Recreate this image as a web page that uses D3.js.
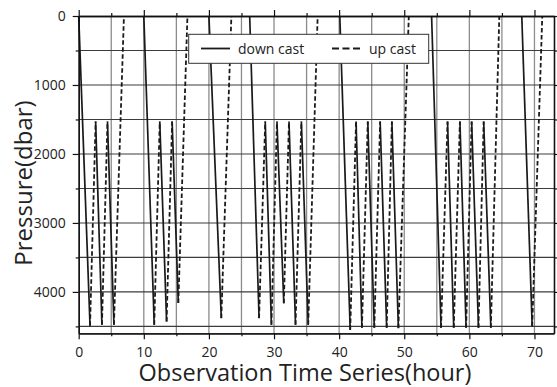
<!DOCTYPE html>
<html>
<head>
<meta charset="utf-8">
<script src="https://cdn.jsdelivr.net/npm/d3@7"></script>
<style>
  html, body { margin: 0; padding: 0; background: #fff; overflow: hidden; }
  svg { display: block; font-family: "Open Sans", "Noto Sans", sans-serif; }
</style>
</head>
<body>
<svg id="chart" width="557" height="387"></svg>
<script>
// Down casts: [start hour, start pressure, end hour, end pressure]
const downCasts = [
  [0.0, 0, 1.74, 4490], [2.6, 1530, 3.57, 4475], [4.42, 1530, 5.41, 4475],
  [10.0, 0, 11.6, 4475], [12.45, 1530, 13.5, 4430], [14.35, 1530, 15.3, 4160],
  [20.0, 0, 21.9, 4380],
  [26.26, 0, 27.7, 4380], [28.65, 1530, 29.6, 4475], [30.45, 1530, 31.5, 4165],
  [32.3, 1530, 33.3, 4475], [34.2, 1530, 35.25, 4475],
  [40.1, 0, 41.7, 4550], [42.6, 1530, 43.5, 4520], [44.4, 1530, 45.4, 4520],
  [46.3, 1530, 47.3, 4520], [48.1, 1530, 49.1, 4525],
  [54.2, 0, 55.65, 4520], [56.65, 1530, 57.6, 4520], [58.55, 1530, 59.5, 4520],
  [60.35, 1530, 61.4, 4520], [62.2, 1530, 63.3, 4520],
  [68.05, 0, 69.65, 4500]
];

// Up casts: [start hour, start pressure, end hour, end pressure]
const upCasts = [
  [1.74, 4490, 2.6, 1530], [3.57, 4475, 4.42, 1530], [5.41, 4475, 6.95, 0],
  [11.6, 4475, 12.45, 1530], [13.5, 4430, 14.35, 1530], [15.3, 4160, 16.7, 0],
  [21.9, 4380, 23.45, 0],
  [27.7, 4380, 28.65, 1530], [29.6, 4475, 30.45, 1530], [31.5, 4165, 32.3, 1530],
  [33.3, 4475, 34.2, 1530], [35.25, 4475, 36.7, 0],
  [41.7, 4550, 42.6, 1530], [43.5, 4520, 44.4, 1530], [45.4, 4520, 46.3, 1530],
  [47.3, 4520, 48.1, 1530], [49.1, 4525, 50.7, 0],
  [55.65, 4520, 56.65, 1530], [57.6, 4520, 58.55, 1530], [59.5, 4520, 60.35, 1530],
  [61.4, 4520, 62.2, 1530], [63.3, 4520, 64.6, 0],
  [69.65, 4500, 71.2, 0]
];

// Axis ticks and grid
const hourTicks = [0, 10, 20, 30, 40, 50, 60, 70];
const hourMinorTicks = [5, 15, 25, 35, 45, 55, 65];
const pressureTicks = [0, 1000, 2000, 3000, 4000];
const pressureMinorTicks = [500, 1500, 2500, 3500, 4500];
const hourGrid = [5, 10, 15, 20, 25, 30, 35, 40, 45, 50, 55, 60, 65, 70];
const pressureGrid = [500, 1000, 1500, 2000, 2500, 3000, 3500, 4000, 4500];
const hourDomain = [0, 73];
const pressureDomain = [0, 4600];

const legendLabels = ["down cast", "up cast"];
const xTitle = "Observation Time Series(hour)";
const yTitle = "Pressure(dbar)";

const svg = d3.select("#chart");
const plotLeft = 78.7, plotRight = 554, plotTop = 16, plotBottom = 333.3;

const x = d3.scaleLinear().domain(hourDomain).range([plotLeft, plotRight]);
const y = d3.scaleLinear().domain(pressureDomain).range([plotTop, plotBottom]);

// grid
const grid = svg.append("g");
grid.selectAll("line.v").data(hourGrid).join("line")
  .attr("class", "v")
  .attr("x1", d => x(d)).attr("x2", d => x(d))
  .attr("y1", plotTop).attr("y2", plotBottom)
  .attr("stroke", "#8c8c8c").attr("stroke-width", 1.3);
grid.selectAll("line.h").data(pressureGrid).join("line")
  .attr("class", "h")
  .attr("x1", plotLeft).attr("x2", plotRight)
  .attr("y1", d => y(d)).attr("y2", d => y(d))
  .attr("stroke", "#3c3c3c").attr("stroke-width", 1.1);

// casts
const casts = svg.append("g").attr("fill", "none");
casts.selectAll("line.down").data(downCasts).join("line")
  .attr("class", "down")
  .attr("x1", d => x(d[0])).attr("y1", d => y(d[1]))
  .attr("x2", d => x(d[2])).attr("y2", d => y(d[3]))
  .attr("stroke", "#1a1a1a").attr("stroke-width", 1.7);
casts.selectAll("line.up").data(upCasts).join("line")
  .attr("class", "up")
  .attr("x1", d => x(d[0])).attr("y1", d => y(d[1]))
  .attr("x2", d => x(d[2])).attr("y2", d => y(d[3]))
  .attr("stroke", "#1a1a1a").attr("stroke-width", 1.8)
  .attr("stroke-dasharray", "4.5,2.5");

// axes: major ticks with labels, minor ticks without
function styleAxis(g) {
  g.select(".domain").attr("stroke", "#111").attr("stroke-width", 1.3);
  g.selectAll(".tick line").attr("stroke", "#111").attr("stroke-width", 1.2);
  g.selectAll(".tick text").attr("fill", "#222").style("font-size", "14px")
    .style("font-family", "'Open Sans', sans-serif");
}
const plain = d3.format("d");

svg.append("g").attr("transform", `translate(0,${plotBottom})`)
  .call(d3.axisBottom(x).tickValues(hourTicks).tickFormat(plain).tickSize(6).tickPadding(8).tickSizeOuter(0))
  .call(styleAxis);
svg.append("g").attr("transform", `translate(0,${plotBottom})`)
  .call(d3.axisBottom(x).tickValues(hourMinorTicks).tickSize(3).tickFormat("").tickSizeOuter(0))
  .call(styleAxis);
svg.append("g").attr("transform", `translate(0,${plotTop})`)
  .call(d3.axisTop(x).tickValues(hourTicks).tickSize(6).tickFormat("").tickSizeOuter(0))
  .call(styleAxis);
svg.append("g").attr("transform", `translate(0,${plotTop})`)
  .call(d3.axisTop(x).tickValues(hourMinorTicks).tickSize(3).tickFormat("").tickSizeOuter(0))
  .call(styleAxis);

svg.append("g").attr("transform", `translate(${plotLeft},0)`)
  .call(d3.axisLeft(y).tickValues(pressureTicks).tickFormat(plain).tickSize(6).tickPadding(7).tickSizeOuter(0))
  .call(styleAxis);
svg.append("g").attr("transform", `translate(${plotLeft},0)`)
  .call(d3.axisLeft(y).tickValues(pressureMinorTicks).tickSize(3).tickFormat("").tickSizeOuter(0))
  .call(styleAxis);
svg.append("g").attr("transform", `translate(${plotRight},0)`)
  .call(d3.axisRight(y).tickValues(pressureTicks).tickSize(3).tickFormat("").tickSizeOuter(0))
  .call(styleAxis);
svg.append("g").attr("transform", `translate(${plotRight},0)`)
  .call(d3.axisRight(y).tickValues(pressureMinorTicks).tickSize(3).tickFormat("").tickSizeOuter(0))
  .call(styleAxis);

// axis titles
svg.append("text")
  .attr("x", 305).attr("y", 381)
  .attr("text-anchor", "middle")
  .attr("fill", "#222")
  .style("font-size", "23.5px")
  .text(xTitle);
svg.append("text")
  .attr("transform", "translate(32,183) rotate(-90)")
  .attr("text-anchor", "middle")
  .attr("fill", "#222")
  .style("font-size", "24px")
  .text(yTitle);

// legend
const lg = svg.append("g");
lg.append("rect")
  .attr("x", 188.7).attr("y", 34.3).attr("width", 240).attr("height", 29)
  .attr("fill", "#fff").attr("stroke", "#333").attr("stroke-width", 1);
lg.append("line")
  .attr("x1", 201).attr("x2", 230).attr("y1", 48.5).attr("y2", 48.5)
  .attr("stroke", "#1a1a1a").attr("stroke-width", 1.8);
lg.append("text")
  .attr("x", 238).attr("y", 53.5).attr("fill", "#222")
  .style("font-size", "14px").text(legendLabels[0]);
lg.append("line")
  .attr("x1", 332).attr("x2", 360).attr("y1", 48.5).attr("y2", 48.5)
  .attr("stroke", "#1a1a1a").attr("stroke-width", 1.8)
  .attr("stroke-dasharray", "7,3.5");
lg.append("text")
  .attr("x", 369).attr("y", 53.5).attr("fill", "#222")
  .style("font-size", "14px").text(legendLabels[1]);
</script>
</body>
</html>
